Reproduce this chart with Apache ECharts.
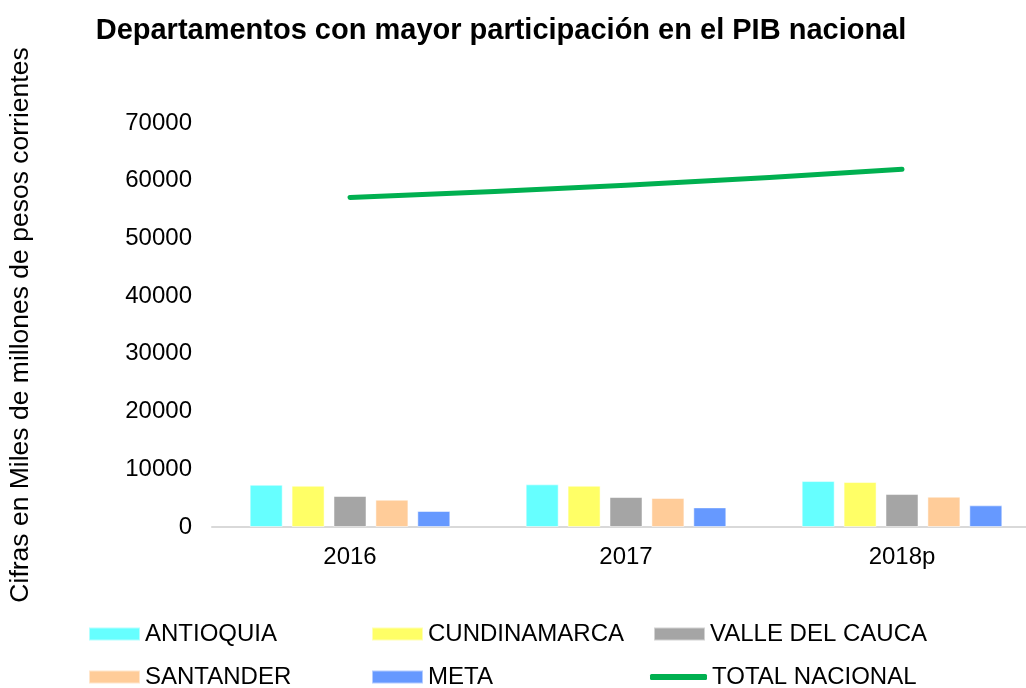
<!DOCTYPE html>
<html lang="es">
<head>
    <meta charset="UTF-8">
    <title>Departamentos con mayor participación en el PIB nacional</title>
    <script src="https://cdn.jsdelivr.net/npm/echarts@6/dist/echarts.min.js"></script>
    <style>
        body {
            padding: 0;
            margin: 0;
            border: none;
            overflow: hidden;
            background: #fff;
        }
        #echart {
            width: 1026px;
            height: 688px;
        }
    </style>
</head>
<body>
    <div id="echart"></div>
<script>
// datos
const years = ['2016', '2017', '2018p'];
const antioquia = [7320, 7390, 7960];
const cundinamarca = [7150, 7150, 7790];
const valle = [5370, 5190, 5710];
const santander = [4730, 5020, 5250];
const meta = [2770, 3400, 3750];
const totalNacional = [57100, 59200, 62000];
const yTicks = [0, 10000, 20000, 30000, 40000, 50000, 60000, 70000];

const font = 'Liberation Sans, Arial, sans-serif';

let bar = (name, data, color) => ({
    name: name,
    type: 'bar',
    data: data,
    barWidth: 33,
    barGap: '27%',
    itemStyle: { color: color, borderColor: 'rgba(255,255,255,0.5)', borderWidth: 1 }
});

// una leyenda por elemento, para fijar las columnas como en Excel
let legendItem = (left, top, name, extra) => Object.assign({
    left: left,
    top: top,
    padding: 0,
    icon: 'rect',
    itemWidth: 51,
    itemHeight: 13,
    data: [name],
    textStyle: { fontFamily: font, fontSize: 24, color: '#000' }
}, extra || {});

let ec = echarts.init(document.getElementById('echart'));
ec.setOption({
    animation: false,
    title: {
        text: 'Departamentos con mayor participación en el PIB nacional',
        left: 496,
        textAlign: 'center',
        top: 11,
        textStyle: { fontFamily: font, fontSize: 29, fontWeight: 'bold', color: '#000' }
    },
    legend: [
        legendItem(88, 622, 'ANTIOQUIA'),
        legendItem(371, 622, 'CUNDINAMARCA'),
        legendItem(653, 622, 'VALLE DEL CAUCA'),
        legendItem(88, 665, 'SANTANDER'),
        legendItem(371, 665, 'META'),
        legendItem(650, 665, 'TOTAL NACIONAL', { icon: 'roundRect', itemWidth: 57, itemHeight: 6 })
    ],
    grid: {
        left: 212,
        top: 123,
        width: 828,
        height: 404,
        containLabel: false,
        outerBoundsMode: 'none'
    },
    xAxis: {
        type: 'category',
        data: years,
        axisLine: { lineStyle: { color: '#d9d9d9', width: 2 } },
        axisTick: { show: false },
        axisLabel: { fontFamily: font, fontSize: 24, color: '#000', margin: 18 }
    },
    yAxis: {
        type: 'value',
        min: yTicks[0],
        max: yTicks[yTicks.length - 1],
        interval: 10000,
        name: 'Cifras en Miles de millones de pesos corrientes',
        nameLocation: 'middle',
        nameRotate: 90,
        nameGap: 178,
        nameTextStyle: { fontFamily: font, fontSize: 26.5, color: '#000' },
        axisLine: { show: false },
        axisTick: { show: false },
        splitLine: { show: false },
        axisLabel: { fontFamily: font, fontSize: 24, color: '#000', margin: 20, formatter: v => String(v) }
    },
    series: [
        bar('ANTIOQUIA', antioquia, '#66FFFF'),
        bar('CUNDINAMARCA', cundinamarca, '#FFFF66'),
        bar('VALLE DEL CAUCA', valle, '#A5A5A5'),
        bar('SANTANDER', santander, '#FFCC99'),
        bar('META', meta, '#6699FF'),
        {
            name: 'TOTAL NACIONAL',
            type: 'line',
            data: totalNacional,
            smooth: true,
            symbol: 'none',
            lineStyle: { color: '#00B050', width: 5, cap: 'round' },
            itemStyle: { color: '#00B050' }
        }
    ]
});
</script>
</body>
</html>
